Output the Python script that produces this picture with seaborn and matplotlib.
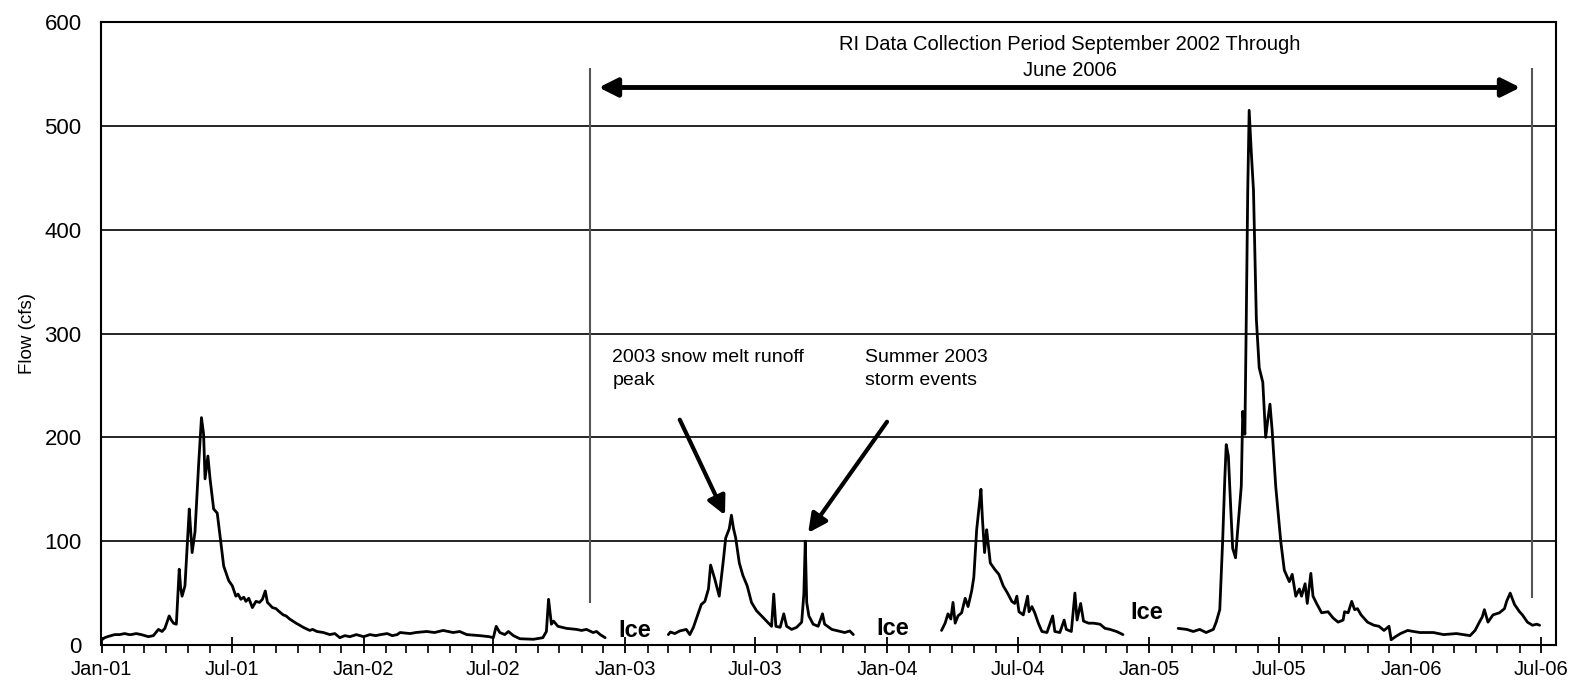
import numpy as np
import pandas as pd
import matplotlib
matplotlib.use("Agg")
import matplotlib.pyplot as plt
import matplotlib.dates as mdates
import seaborn as sns

# Daily flow readings (four segments, gaps = ice)
seg1_dates = [
    "2001-01-01", "2001-01-05", "2001-01-09", "2001-01-14", "2001-01-19", "2001-01-26",
    "2001-02-02", "2001-02-08", "2001-02-11", "2001-02-18", "2001-02-25", "2001-03-07",
    "2001-03-14", "2001-03-21", "2001-03-26", "2001-03-30", "2001-04-05", "2001-04-08",
    "2001-04-11", "2001-04-15", "2001-04-19", "2001-04-21", "2001-04-23", "2001-04-27",
    "2001-05-03", "2001-05-05", "2001-05-07", "2001-05-11", "2001-05-16", "2001-05-20",
    "2001-05-23", "2001-05-25", "2001-05-29", "2001-06-01", "2001-06-06", "2001-06-11",
    "2001-06-16", "2001-06-20", "2001-06-27", "2001-07-02", "2001-07-07", "2001-07-10",
    "2001-07-14", "2001-07-18", "2001-07-21", "2001-07-25", "2001-07-30", "2001-08-04",
    "2001-08-09", "2001-08-13", "2001-08-17", "2001-08-20", "2001-08-27", "2001-09-01",
    "2001-09-04", "2001-09-11", "2001-09-15", "2001-09-20", "2001-09-29", "2001-10-04",
    "2001-10-09", "2001-10-18", "2001-10-22", "2001-10-28", "2001-11-06", "2001-11-15",
    "2001-11-22", "2001-11-29", "2001-12-06", "2001-12-13", "2001-12-22", "2002-01-01",
    "2002-01-10", "2002-01-18", "2002-01-25", "2002-02-03", "2002-02-10", "2002-02-17",
    "2002-02-21", "2002-03-07", "2002-03-15", "2002-03-30", "2002-04-10", "2002-04-22",
    "2002-05-06", "2002-05-15", "2002-05-25", "2002-06-12", "2002-06-25", "2002-07-01",
    "2002-07-05", "2002-07-10", "2002-07-17", "2002-07-22", "2002-07-29", "2002-08-07",
    "2002-08-26", "2002-09-08", "2002-09-13", "2002-09-16", "2002-09-20", "2002-09-23",
    "2002-09-29", "2002-10-05", "2002-10-11", "2002-10-25", "2002-11-01", "2002-11-08",
    "2002-11-17", "2002-11-22", "2002-11-27", "2002-12-04",
]
seg1_flow = [
    5, 7, 8, 9, 10, 10,
    11, 10, 10, 11, 10, 8,
    9, 15, 13, 16, 28, 24,
    21, 20, 73, 55, 47, 57,
    131, 110, 89, 109, 173, 219,
    203, 160, 182, 160, 131, 127,
    99, 76, 62, 57, 47, 49,
    44, 46, 42, 45, 36, 42,
    41, 44, 52, 41, 36, 35,
    33, 29, 28, 25, 21, 19,
    17, 14, 15, 13, 12, 10,
    11, 7, 9, 8, 10, 8,
    10, 9, 10, 11, 9, 10,
    12, 11, 12, 13, 12, 14,
    12, 13, 10, 9, 8, 7,
    18, 12, 10, 13, 9, 6,
    5.5, 7, 13, 44, 20, 23,
    18, 17, 16, 15, 14, 15,
    12, 13, 10, 7,
]

seg2_dates = [
    "2003-03-02", "2003-03-05", "2003-03-11", "2003-03-18", "2003-03-27", "2003-04-01",
    "2003-04-06", "2003-04-10", "2003-04-17", "2003-04-22", "2003-04-27", "2003-04-30",
    "2003-05-06", "2003-05-12", "2003-05-18", "2003-05-21", "2003-05-26", "2003-05-29",
    "2003-06-01", "2003-06-04", "2003-06-09", "2003-06-14", "2003-06-20", "2003-06-26",
    "2003-07-03", "2003-07-10", "2003-07-17", "2003-07-24", "2003-07-27", "2003-07-30",
    "2003-08-05", "2003-08-10", "2003-08-14", "2003-08-21", "2003-08-28", "2003-09-04",
    "2003-09-07", "2003-09-09", "2003-09-11", "2003-09-14", "2003-09-20", "2003-09-27",
    "2003-10-03", "2003-10-06", "2003-10-16", "2003-10-25", "2003-11-03", "2003-11-10",
    "2003-11-15",
]
seg2_flow = [
    10, 12.5, 11, 13.5, 15, 10,
    17, 25, 39, 42, 54, 77,
    63, 47, 83, 103, 112, 125,
    112, 103, 79, 67, 57, 41,
    33, 28, 23, 18, 49, 18,
    17, 30, 18, 15, 17, 22,
    49, 100, 41, 28, 20, 18,
    30, 20, 15, 13.5, 12, 13.5,
    10,
]

seg3_dates = [
    "2004-03-17", "2004-03-22", "2004-03-26", "2004-03-30", "2004-04-02", "2004-04-05",
    "2004-04-09", "2004-04-14", "2004-04-19", "2004-04-23", "2004-04-28", "2004-05-01",
    "2004-05-05", "2004-05-09", "2004-05-11", "2004-05-13", "2004-05-16", "2004-05-19",
    "2004-05-21", "2004-05-24", "2004-05-30", "2004-06-05", "2004-06-11", "2004-06-17",
    "2004-06-23", "2004-06-27", "2004-06-30", "2004-07-03", "2004-07-09", "2004-07-15",
    "2004-07-17", "2004-07-21", "2004-07-25", "2004-07-30", "2004-08-04", "2004-08-11",
    "2004-08-19", "2004-08-22", "2004-08-29", "2004-09-04", "2004-09-07", "2004-09-14",
    "2004-09-19", "2004-09-22", "2004-09-27", "2004-10-01", "2004-10-08", "2004-10-15",
    "2004-10-24", "2004-10-31", "2004-11-07", "2004-11-16", "2004-11-25",
]
seg3_flow = [
    14, 21, 30, 25, 41, 21,
    28, 31, 45, 37, 52, 65,
    111, 137, 150, 122, 89, 111,
    98, 79, 73, 68, 57, 50,
    42, 40, 47, 32, 29, 47,
    32, 37, 31, 21, 13, 12,
    28, 13, 12, 24, 15, 13,
    50, 24, 40, 23, 21, 21,
    20, 16, 15, 13, 10,
]

seg4_dates = [
    "2005-02-10", "2005-02-22", "2005-03-03", "2005-03-12", "2005-03-21", "2005-03-31",
    "2005-04-04", "2005-04-09", "2005-04-13", "2005-04-16", "2005-04-18", "2005-04-21",
    "2005-04-24", "2005-04-27", "2005-05-01", "2005-05-04", "2005-05-09", "2005-05-11",
    "2005-05-14", "2005-05-16", "2005-05-18", "2005-05-20", "2005-05-23", "2005-05-26",
    "2005-05-30", "2005-06-03", "2005-06-08", "2005-06-12", "2005-06-15", "2005-06-18",
    "2005-06-21", "2005-06-26", "2005-07-03", "2005-07-08", "2005-07-15", "2005-07-19",
    "2005-07-24", "2005-07-29", "2005-08-01", "2005-08-06", "2005-08-09", "2005-08-14",
    "2005-08-17", "2005-08-22", "2005-08-29", "2005-09-07", "2005-09-14", "2005-09-21",
    "2005-09-28", "2005-09-30", "2005-10-05", "2005-10-10", "2005-10-14", "2005-10-18",
    "2005-10-23", "2005-11-01", "2005-11-10", "2005-11-17", "2005-11-24", "2005-12-01",
    "2005-12-04", "2005-12-10", "2005-12-17", "2005-12-27", "2006-01-04", "2006-01-13",
    "2006-02-01", "2006-02-15", "2006-03-05", "2006-03-24", "2006-03-31", "2006-04-06",
    "2006-04-10", "2006-04-13", "2006-04-18", "2006-04-25", "2006-05-04", "2006-05-11",
    "2006-05-14", "2006-05-19", "2006-05-25", "2006-06-01", "2006-06-05", "2006-06-12",
    "2006-06-19", "2006-06-25", "2006-06-29",
]
seg4_flow = [
    16, 15, 13, 15, 12, 15,
    22, 34, 100, 160, 193, 182,
    136, 93, 84, 111, 153, 225,
    203, 317, 438, 515, 474, 438,
    314, 267, 253, 200, 217, 232,
    207, 153, 100, 72, 61, 68,
    47, 54, 47, 59, 40, 69,
    47, 40, 31, 32, 26, 22,
    24, 32, 31, 42, 34, 35,
    29, 22, 19, 18, 14, 18,
    5, 8, 11, 14, 13, 12,
    12, 10, 11, 9, 14, 22,
    27, 34, 22, 29, 31, 35,
    42, 50, 39, 32, 29, 22,
    19, 20, 19,
]

segments = [
    (seg1_dates, seg1_flow),
    (seg2_dates, seg2_flow),
    (seg3_dates, seg3_flow),
    (seg4_dates, seg4_flow),
]

frames = []
for i, (d, f) in enumerate(segments):
    frames.append(pd.DataFrame({"date": pd.to_datetime(d), "flow": f, "segment": i}))
df = pd.concat(frames, ignore_index=True)

sns.set_style("white")
plt.rcParams["font.family"] = ["Liberation Sans", "DejaVu Sans"]
plt.rcParams["text.color"] = "black"
plt.rcParams["axes.labelcolor"] = "black"
plt.rcParams["xtick.color"] = "black"
plt.rcParams["ytick.color"] = "black"

fig = plt.figure(figsize=(15.79, 6.86), dpi=100)
ax = fig.add_axes([0.064, 0.0598, 0.9215, 0.908])

sns.lineplot(data=df, x="date", y="flow", units="segment", estimator=None,
             color="black", linewidth=2.0, ax=ax)


def dn(s):
    return mdates.date2num(pd.Timestamp(s))


ax.set_xlim(dn("2000-12-31"), dn("2006-07-22"))
ax.set_ylim(0, 600)
ax.set_yticks(range(0, 601, 100))
ax.yaxis.grid(True, color="black", linewidth=1.2)
ax.xaxis.grid(False)

ax.xaxis.set_major_locator(mdates.MonthLocator(bymonth=[1, 7]))
ax.xaxis.set_major_formatter(mdates.DateFormatter("%b-%y"))
ax.xaxis.set_minor_locator(mdates.MonthLocator())
ax.tick_params(axis="x", which="major", direction="inout", length=12, width=1.3,
               labelsize=14.5, pad=5, bottom=True)
ax.tick_params(axis="x", which="minor", direction="out", length=6, width=1.2, bottom=True)
ax.tick_params(axis="y", length=0, labelsize=16, pad=14)

for sp in ax.spines.values():
    sp.set_color("black")
    sp.set_linewidth(1.5)

ax.set_xlabel("")
ax.set_ylabel("Flow (cfs)", fontsize=13.5)
ax.yaxis.set_label_coords(-0.045, 0.5)

# collection period markers
ax.vlines([dn("2002-11-13"), dn("2006-06-18")], [40, 45], [556, 556],
          color="#555555", linewidth=1.5)
ax.annotate("", xy=(dn("2002-11-25"), 537), xytext=(dn("2006-06-02"), 537),
            arrowprops=dict(arrowstyle="<|-|>", color="black", lw=3.5, mutation_scale=28,
                            shrinkA=0, shrinkB=0))
ax.text(dn("2004-09-12"), 566, "RI Data Collection Period September 2002 Through\nJune 2006",
        ha="center", va="center", fontsize=14.5, linespacing=1.45,
        family=["Liberation Sans Narrow", "Liberation Sans", "DejaVu Sans"])

# event annotations
ax.annotate("", xy=(dn("2003-05-20"), 125), xytext=(dn("2003-03-18"), 217),
            arrowprops=dict(arrowstyle="-|>", color="black", lw=3, mutation_scale=28,
                            shrinkA=0, shrinkB=0))
ax.annotate("", xy=(dn("2003-09-13"), 108), xytext=(dn("2004-01-01"), 215),
            arrowprops=dict(arrowstyle="-|>", color="black", lw=3, mutation_scale=28,
                            shrinkA=0, shrinkB=0))
ax.text(dn("2002-12-14"), 285, "2003 snow melt runoff\npeak", ha="left", va="top",
        fontsize=14, linespacing=1.45)
ax.text(dn("2003-12-01"), 285, "Summer 2003\nstorm events", ha="left", va="top",
        fontsize=14, linespacing=1.45)

for d, y in [("2003-01-14", 14), ("2004-01-09", 16), ("2004-12-28", 31)]:
    ax.text(dn(d), y, "Ice", ha="center", va="center", fontsize=17, fontweight="bold")

fig.savefig("out.png", dpi=100, facecolor="white")
